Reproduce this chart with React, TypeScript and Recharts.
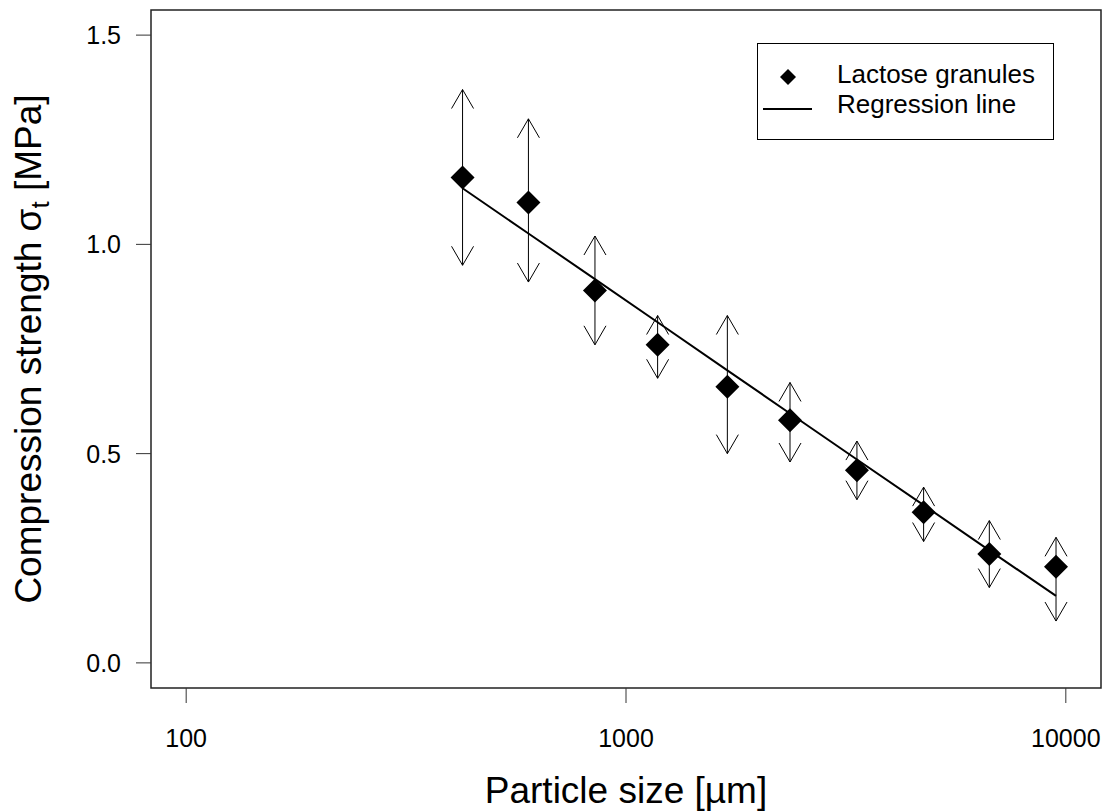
import { ComposedChart, Legend, ReferenceArea, Scatter, XAxis, YAxis } from "recharts"

const FONT = "'Liberation Sans', Arial, sans-serif"

// sieve fractions [µm] and measured compression strength [MPa]
const SIEVE_SIZES = [425, 600, 850, 1180, 1700, 2360, 3350, 4750, 6700, 9500]
const STRENGTH = [1.16, 1.1, 0.89, 0.76, 0.66, 0.58, 0.46, 0.36, 0.26, 0.23]
const STRENGTH_UPPER = [1.37, 1.3, 1.02, 0.83, 0.83, 0.67, 0.53, 0.42, 0.34, 0.3]
const STRENGTH_LOWER = [0.95, 0.91, 0.76, 0.68, 0.5, 0.48, 0.39, 0.29, 0.18, 0.1]
const REGRESSION = [1.134, 1.026, 0.917, 0.814, 0.699, 0.596, 0.486, 0.377, 0.269, 0.16]

const X_TICKS = [100, 1000, 10000]
const Y_TICKS = [0, 0.5, 1.0, 1.5]

// axis limits padded by 4% like base R graphics
const X_DOMAIN = [Math.pow(10, 1.92), Math.pow(10, 4.08)]
const Y_DOMAIN = [-0.06, 1.56]

const points = SIEVE_SIZES.map((size, i) => ({ size, value: STRENGTH[i] }))
const fitLine = SIEVE_SIZES.map((size, i) => ({ size, value: REGRESSION[i] }))
const arrows = SIEVE_SIZES.map((size, i) => [
    { size, value: STRENGTH_LOWER[i], dir: "down" },
    { size, value: STRENGTH_UPPER[i], dir: "up" },
])

function Diamond({ cx, cy, r = 12 }: { cx: number; cy: number; r?: number }) {
    return (
        <polygon
            points={`${cx},${cy - r} ${cx + r},${cy} ${cx},${cy + r} ${cx - r},${cy}`}
            fill="#000"
        />
    )
}

function ArrowHead(props: any) {
    const { cx, cy, payload } = props
    const h = payload.dir === "up" ? 19 : -19
    return (
        <polyline
            points={`${cx - 11},${cy + h} ${cx},${cy} ${cx + 11},${cy + h}`}
            fill="none"
            stroke="#000"
            strokeWidth={1}
        />
    )
}

function XTitle(props: any) {
    const vb = props.viewBox
    return (
        <text
            x={vb.x + vb.width / 2}
            y={vb.y + vb.height - 9}
            textAnchor="middle"
            fontSize={37}
            fontFamily={FONT}
            fill="#000"
        >
            Particle size [µm]
        </text>
    )
}

function YTitle(props: any) {
    const vb = props.viewBox
    const x = vb.x + 41
    const y = vb.y + vb.height / 2
    return (
        <text
            x={x}
            y={y}
            transform={`rotate(-90 ${x} ${y})`}
            textAnchor="middle"
            fontSize={37}
            fontFamily={FONT}
            fill="#000"
        >
            Compression strength σ
            <tspan fontSize={26} dy={8}>t</tspan>
            <tspan dy={-8}> [MPa]</tspan>
        </text>
    )
}

function LegendBox() {
    return (
        <svg width={297} height={97} style={{ display: "block" }}>
            <rect x={0.5} y={0.5} width={296} height={96} fill="#fff" stroke="#000" />
            <Diamond cx={31} cy={34} r={8} />
            <text x={80} y={40} fontSize={26} fontFamily={FONT} fill="#000">
                Lactose granules
            </text>
            <line x1={6} x2={55} y1={66} y2={66} stroke="#000" strokeWidth={2} />
            <text x={80} y={70} fontSize={26} fontFamily={FONT} fill="#000">
                Regression line
            </text>
        </svg>
    )
}

export default function App() {
    return (
        <div style={{ position: "absolute", left: 0, top: 0, background: "#fff" }}>
            <ComposedChart
                width={1109}
                height={812}
                margin={{ top: 10, right: 8, bottom: 0, left: 0 }}
            >
                <XAxis
                    dataKey="size"
                    type="number"
                    scale="log"
                    domain={X_DOMAIN}
                    ticks={X_TICKS}
                    allowDataOverflow
                    height={124}
                    axisLine={false}
                    tickLine={{ stroke: "#333" }}
                    tickSize={15}
                    tickMargin={26}
                    tick={{ fontSize: 25, fontFamily: FONT, fill: "#000" }}
                    label={(p: any) => <XTitle {...p} />}
                />
                <YAxis
                    dataKey="value"
                    type="number"
                    domain={Y_DOMAIN}
                    ticks={Y_TICKS}
                    allowDataOverflow
                    width={151}
                    axisLine={false}
                    tickLine={{ stroke: "#333" }}
                    tickSize={15}
                    tickMargin={15}
                    tickFormatter={(v: number) => v.toFixed(1)}
                    tick={{ fontSize: 25, fontFamily: FONT, fill: "#000" }}
                    label={(p: any) => <YTitle {...p} />}
                />
                <ReferenceArea
                    x1={X_DOMAIN[0]}
                    x2={X_DOMAIN[1]}
                    y1={Y_DOMAIN[0]}
                    y2={Y_DOMAIN[1]}
                    fill="none"
                    stroke="#222"
                    strokeWidth={1.5}
                    ifOverflow="visible"
                />
                {arrows.map((pair, i) => (
                    <Scatter
                        key={`arrow-${i}`}
                        data={pair}
                        dataKey="value"
                        line={{ stroke: "#000", strokeWidth: 1 }}
                        shape={ArrowHead}
                        legendType="none"
                        isAnimationActive={false}
                    />
                ))}
                <Scatter
                    name="Lactose granules"
                    data={points}
                    dataKey="value"
                    shape={(p: any) => <Diamond cx={p.cx} cy={p.cy} />}
                    isAnimationActive={false}
                />
                <Scatter
                    name="Regression line"
                    data={fitLine}
                    dataKey="value"
                    line={{ stroke: "#000", strokeWidth: 2 }}
                    shape={() => <g />}
                    isAnimationActive={false}
                />
                <Legend
                    layout="vertical"
                    align="center"
                    verticalAlign="middle"
                    wrapperStyle={{ left: 757, top: 43, width: 297, height: 97 }}
                    content={() => <LegendBox />}
                />
            </ComposedChart>
        </div>
    )
}
